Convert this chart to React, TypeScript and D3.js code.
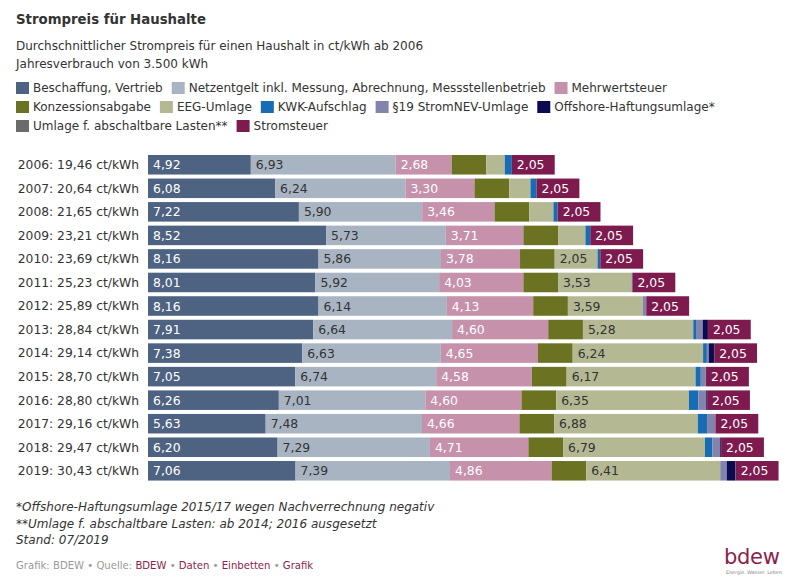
import React from 'react';
import * as d3 from 'd3';

const years = ['2006', '2007', '2008', '2009', '2010', '2011', '2012', '2013', '2014', '2015', '2016', '2017', '2018', '2019'];
const totals = ['19,46', '20,64', '21,65', '23,21', '23,69', '25,23', '25,89', '28,84', '29,14', '28,70', '28,80', '29,16', '29,47', '30,43'];

const seriesNames = [
  'Beschaffung, Vertrieb',
  'Netzentgelt inkl. Messung, Abrechnung, Messstellenbetrieb',
  'Mehrwertsteuer',
  'Konzessionsabgabe',
  'EEG-Umlage',
  'KWK-Aufschlag',
  '§19 StromNEV-Umlage',
  'Offshore-Haftungsumlage*',
  'Umlage f. abschaltbare Lasten**',
  'Stromsteuer',
];
const seriesColors = ['#4e6282', '#a9b4c3', '#c691aa', '#6b7323', '#b4b993', '#176cb4', '#8284ad', '#0c0b52', '#6b6b6b', '#7d1b4f'];
const labelColors = ['#ffffff', '#333333', '#ffffff', '#333333', '#333333', '#ffffff', '#ffffff', '#ffffff', '#ffffff', '#ffffff'];
const labeledSeries = [0, 1, 2, 4, 9];

const beschaffung = [4.92, 6.08, 7.22, 8.52, 8.16, 8.01, 8.16, 7.91, 7.38, 7.05, 6.26, 5.63, 6.2, 7.06];
const netzentgelt = [6.93, 6.24, 5.9, 5.73, 5.86, 5.92, 6.14, 6.64, 6.63, 6.74, 7.01, 7.48, 7.29, 7.39];
const mehrwertsteuer = [2.68, 3.3, 3.46, 3.71, 3.78, 4.03, 4.13, 4.6, 4.65, 4.58, 4.6, 4.66, 4.71, 4.86];
const konzession = [1.66, 1.66, 1.66, 1.66, 1.66, 1.66, 1.66, 1.66, 1.66, 1.66, 1.66, 1.66, 1.66, 1.66];
const eeg = [0.88, 1.02, 1.16, 1.31, 2.05, 3.53, 3.59, 5.28, 6.24, 6.17, 6.35, 6.88, 6.79, 6.41];
const kwk = [0.34, 0.29, 0.2, 0.23, 0.13, 0.03, 0.0, 0.13, 0.18, 0.25, 0.45, 0.44, 0.35, 0.0];
const stromnev = [0, 0, 0, 0, 0, 0, 0.16, 0.32, 0.09, 0.24, 0.38, 0.39, 0.37, 0.31];
const offshore = [0, 0, 0, 0, 0, 0, 0, 0.25, 0.25, -0.05, 0.04, -0.03, 0.04, 0.42];
const abschaltbar = [0, 0, 0, 0, 0, 0, 0, 0, 0.01, 0.01, 0, 0.01, 0.01, 0.01];
const stromsteuer = [2.05, 2.05, 2.05, 2.05, 2.05, 2.05, 2.05, 2.05, 2.05, 2.05, 2.05, 2.05, 2.05, 2.05];

const seriesValues = [beschaffung, netzentgelt, mehrwertsteuer, konzession, eeg, kwk, stromnev, offshore, abschaltbar, stromsteuer];

const footnotes = [
  '*Offshore-Haftungsumlage 2015/17 wegen Nachverrechnung negativ',
  '**Umlage f. abschaltbare Lasten: ab 2014; 2016 ausgesetzt',
  'Stand: 07/2019',
];

const W = 800;
const H = 584;
const FONT = "'DejaVu Sans', Verdana, sans-serif";
const TEXT = '#333333';

function measure(text: string, size: number, weight = 'normal', style = 'normal') {
  if (typeof document === 'undefined') return text.length * size * 0.6;
  const c = document.createElement('canvas');
  const ctx = c.getContext('2d');
  if (!ctx) return text.length * size * 0.6;
  ctx.font = `${style} ${weight} ${size}px 'DejaVu Sans'`;
  return ctx.measureText(text).width;
}

export default function App() {
  const table = years.map((y, i) => {
    const row: Record<string, number | string> = { year: y };
    seriesNames.forEach((s, j) => {
      row[s] = seriesValues[j][i];
    });
    return row;
  });

  const stacked = d3
    .stack<Record<string, number | string>>()
    .keys(seriesNames)
    .value((d, k) => d[k] as number)
    .offset(d3.stackOffsetDiverging)(table);

  const plotLeft = 148;
  const x = d3.scaleLinear().domain([0, 31]).range([plotLeft, plotLeft + 31 * 20.9]);
  const y = d3.scaleBand<string>().domain(years).range([153, 153 + 14 * 23.54]).paddingInner(0.17).paddingOuter(0.085);
  const fmt = (v: number) => d3.format('.2f')(v).replace('.', ',');

  // legend layout
  const legendFont = 12;
  const legendItems: { name: string; color: string; x: number; y: number }[] = [];
  let lx = 16;
  let ly = 88;
  const maxX = 785;
  seriesNames.forEach((name, i) => {
    const w = 17 + measure(name, legendFont);
    if (lx + w > maxX && lx > 16) {
      lx = 16;
      ly += 19;
    }
    legendItems.push({ name, color: seriesColors[i], x: lx, y: ly });
    lx += w + 9;
  });

  const creditParts: { t: string; c: string }[] = [
    { t: 'Grafik: BDEW', c: '#9a9a9a' },
    { t: ' • ', c: '#9a9a9a' },
    { t: 'Quelle: ', c: '#9a9a9a' },
    { t: 'BDEW', c: '#8c1d4d' },
    { t: ' • ', c: '#9a9a9a' },
    { t: 'Daten', c: '#8c1d4d' },
    { t: ' • ', c: '#9a9a9a' },
    { t: 'Einbetten', c: '#8c1d4d' },
    { t: ' • ', c: '#9a9a9a' },
    { t: 'Grafik', c: '#8c1d4d' },
  ];

  return (
    <svg width={W} height={H} style={{ position: 'absolute', left: 0, top: 0, background: '#fff' }} fontFamily={FONT}>
      <defs>
        <clipPath id="plotClip">
          <rect x={plotLeft} y={140} width={W - plotLeft} height={360} />
        </clipPath>
      </defs>
      <rect x={0} y={0} width={W} height={H} fill="#ffffff" />
      <text x={16} y={24} fontSize={13.3} fontWeight="bold" fill={TEXT}>
        Strompreis für Haushalte
      </text>
      <text x={16} y={50} fontSize={12} fill={TEXT}>
        Durchschnittlicher Strompreis für einen Haushalt in ct/kWh ab 2006
      </text>
      <text x={16} y={68} fontSize={12} fill={TEXT}>
        Jahresverbrauch von 3.500 kWh
      </text>

      {legendItems.map((it) => (
        <g key={it.name}>
          <rect x={it.x} y={it.y - 6} width={13} height={12} fill={it.color} />
          <text x={it.x + 17} y={it.y + 4.3} fontSize={legendFont} fill={TEXT}>
            {it.name}
          </text>
        </g>
      ))}

      {years.map((yr, i) => (
        <text
          key={yr}
          x={139}
          y={(y(yr) as number) + y.bandwidth() / 2 + 4.4}
          fontSize={12.3}
          textAnchor="end"
          fill={TEXT}
        >
          {`${yr}: ${totals[i]} ct/kWh`}
        </text>
      ))}

      <g clipPath="url(#plotClip)">
        {stacked.map((layer, j) => (
          <g key={layer.key} fill={seriesColors[j]}>
            {layer.map((d, i) => {
              const x0 = x(Math.min(d[0], d[1]));
              const x1 = x(Math.max(d[0], d[1]));
              if (x1 - x0 <= 0) return null;
              return (
                <rect
                  key={years[i]}
                  x={x0}
                  y={y(years[i]) as number}
                  width={x1 - x0}
                  height={y.bandwidth()}
                />
              );
            })}
          </g>
        ))}
      </g>

      {stacked.map((layer, j) =>
        labeledSeries.includes(j)
          ? layer.map((d, i) => {
              const v = seriesValues[j][i];
              if (v < 2) return null;
              return (
                <text
                  key={`${layer.key}-${years[i]}`}
                  x={x(d[0]) + 5}
                  y={(y(years[i]) as number) + y.bandwidth() / 2 + 4.5}
                  fontSize={12.4}
                  fill={labelColors[j]}
                >
                  {fmt(v)}
                </text>
              );
            })
          : null
      )}

      {footnotes.map((f, i) => (
        <text key={f} x={16} y={511 + i * 16.5} fontSize={12} fontStyle="italic" fill={TEXT}>
          {f}
        </text>
      ))}

      <text x={16} y={569} fontSize={10.1} fill="#9a9a9a">
        {creditParts.map((p, i) => (
          <tspan key={i} fill={p.c}>
            {p.t}
          </tspan>
        ))}
      </text>

      <text x={724} y={564} fontSize={21} fill="#8c1d4d" letterSpacing={-0.3}>
        bdew
      </text>
      <text x={726} y={574} fontSize={4.8} fill="#888888">
        Energie. Wasser. Leben.
      </text>
    </svg>
  );
}
